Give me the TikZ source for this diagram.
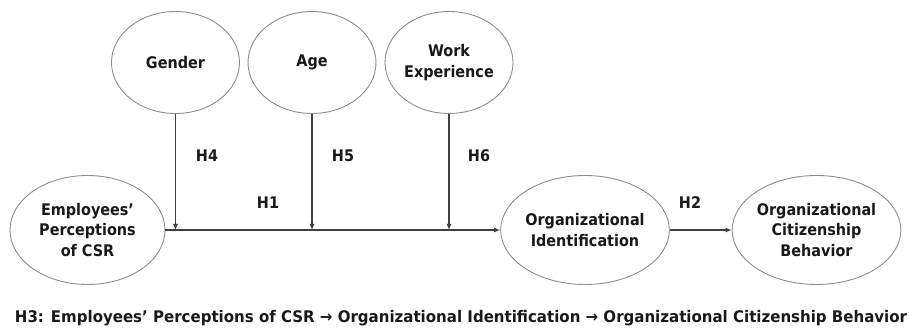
\documentclass[tikz,border=0pt]{standalone}
\usepackage{fontspec}
\setmainfont{DejaVu Sans}[FakeStretch=0.9]
\usetikzlibrary{shapes.geometric,arrows.meta}
\begin{document}
\begin{tikzpicture}[x=1pt,y=-1pt,
  construct/.style={ellipse,draw=black!45,line width=0.9pt,inner sep=0pt,
    align=center,font=\fontsize{16}{20.5}\selectfont\bfseries,text=black!90},
  hyp/.style={font=\fontsize{16}{18}\selectfont\bfseries,text=black!90},
  link/.style={draw=black!75,line width=1.1pt,-{Latex[length=6pt,width=5pt]}}]
\useasboundingbox (0,0) rectangle (909,328);
% moderators
\node[construct,minimum width=128pt,minimum height=102pt] (gender) at (175.5,62.5) {Gender};
\node[construct,minimum width=128pt,minimum height=102pt] (age) at (312,62.5) {Age};
\node[construct,minimum width=128pt,minimum height=102pt] (work) at (449,62.5) {Work\\Experience};
% main path
\node[construct,minimum width=155pt,minimum height=109pt] (emp) at (87.5,230) {Employees'\\Perceptions\\of CSR};
\node[construct,minimum width=156pt,minimum height=109pt] (oi) at (585,230) {Organizational\\Identification};
\node[construct,minimum width=155pt,minimum height=109pt] (ocb) at (816.5,230) {Organizational\\Citizenship\\Behavior};
% points where the moderators meet the H1 path
\coordinate (m4) at (175.5,230);
\coordinate (m5) at (312,230);
\coordinate (m6) at (449,230);
\draw[link] (emp.east) -- (oi.west);
\draw[link] (oi.east) -- (ocb.west);
\draw[link] (gender.south) -- (m4);
\draw[link] (age.south) -- (m5);
\draw[link] (work.south) -- (m6);
% hypothesis labels
\node[hyp] (h4) at (207,156) {H4};
\node[hyp] (h5) at (343,156) {H5};
\node[hyp] (h6) at (479,156) {H6};
\node[hyp] (h1) at (268,203) {H1};
\node[hyp] (h2) at (690,203) {H2};
% mediation hypothesis
\node[font=\fontsize{16}{18}\selectfont\bfseries,text=black!90,inner sep=0pt,anchor=base] (h3) at (461,322)
  {\resizebox{892pt}{\height}{H3: Employees' Perceptions of CSR → Organizational Identification → Organizational Citizenship Behavior}};
\end{tikzpicture}
\end{document}
